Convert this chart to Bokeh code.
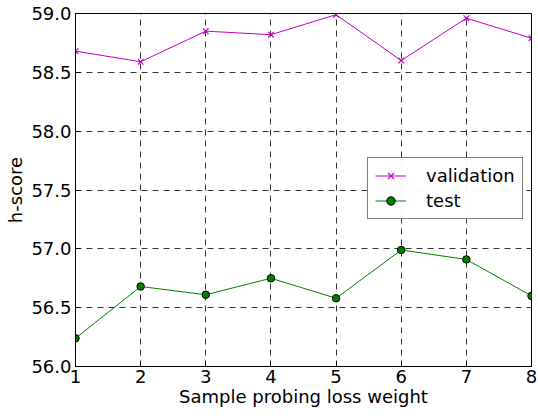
from bokeh.plotting import figure
from bokeh.embed import file_html
from bokeh.resources import INLINE
from bokeh.models import Range1d, FixedTicker, Legend, LegendItem, PrintfTickFormatter

weights = [1, 2, 3, 4, 5, 6, 7, 8]
validation = [58.68, 58.59, 58.85, 58.82, 58.99, 58.60, 58.96, 58.79]
test = [56.24, 56.68, 56.61, 56.75, 56.58, 56.99, 56.91, 56.60]
y_ticks = [56.0, 56.5, 57.0, 57.5, 58.0, 58.5, 59.0]

FONT = "DejaVu Sans"
FS = "18px"

p = figure(width=538, height=416, output_backend="svg", toolbar_location=None,
           x_range=Range1d(1, 8), y_range=Range1d(56, 59),
           min_border_left=75, min_border_right=7, min_border_top=13, min_border_bottom=50)

p.outline_line_color = "black"
p.outline_line_width = 1
p.background_fill_color = "white"

for ax in (p.xaxis[0], p.yaxis[0]):
    ax.major_label_text_font = FONT
    ax.major_label_text_font_size = FS
    ax.axis_label_text_font = FONT
    ax.axis_label_text_font_size = FS
    ax.axis_label_text_font_style = "normal"
    ax.axis_label_text_color = "black"
    ax.major_tick_in = 5
    ax.major_tick_out = 0
    ax.minor_tick_in = 0
    ax.minor_tick_out = 0
    ax.axis_line_color = "black"
    ax.major_tick_line_color = "black"
    ax.major_label_text_color = "black"

p.xaxis.axis_label = "Sample probing loss weight"
p.yaxis.axis_label = "h-score"
p.xaxis.ticker = FixedTicker(ticks=weights)
p.yaxis.ticker = FixedTicker(ticks=y_ticks)
p.yaxis.formatter = PrintfTickFormatter(format="%.1f")
p.xaxis.major_label_standoff = 3
p.yaxis.major_label_standoff = 4
p.xaxis.axis_label_standoff = 0
p.yaxis.axis_label_standoff = 2

for g in (p.xgrid[0], p.ygrid[0]):
    g.grid_line_color = "black"
    g.grid_line_dash = "6 5"
    g.grid_line_width = 1
    g.grid_line_alpha = 0.8

mag = "#bf00bf"
grn = "#008000"
vl = p.line(weights, validation, line_color=mag, line_width=1)
vm = p.scatter(weights, validation, marker="x", size=8, color=mag, line_width=1.2)
tl = p.line(weights, test, line_color=grn, line_width=1)
tm = p.scatter(weights, test, marker="circle", size=7.5, fill_color=grn, line_color="black", line_width=1)

legend = Legend(items=[LegendItem(label="validation", renderers=[vl, vm]),
                       LegendItem(label="test", renderers=[tl, tm])],
                location=(292, 147))
legend.label_text_font = FONT
legend.label_text_font_size = FS
legend.label_text_color = "black"
legend.border_line_color = "black"
legend.border_line_width = 1
legend.glyph_width = 31
legend.label_standoff = 20
legend.padding = 7
legend.spacing = 4
legend.label_height = 21
legend.glyph_height = 21
legend.margin = 0
p.add_layout(legend, "center")

open("out.html", "w").write(file_html(p, INLINE))
